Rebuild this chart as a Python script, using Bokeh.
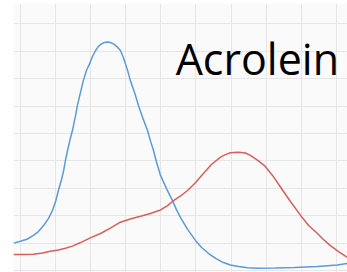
from bokeh.plotting import figure
from bokeh.models import Range1d, FixedTicker, Label
from bokeh.embed import file_html
from bokeh.resources import INLINE

# Blue series
blue_x = [-0.20, 0.00, 0.20, 0.37, 0.51, 0.66, 0.80, 0.91, 1.00, 1.08, 1.17, 1.23,
          1.28, 1.34, 1.42, 1.48, 1.57, 1.62, 1.71, 1.79, 1.88, 1.97, 2.05, 2.14,
          2.22, 2.31, 2.39, 2.48, 2.56, 2.65, 2.74, 2.85, 2.92, 2.99, 3.06, 3.13,
          3.25, 3.36, 3.48, 3.62, 3.70, 3.79, 3.87, 3.99, 4.16, 4.33, 4.44, 4.56,
          4.76, 4.99, 5.16, 5.36, 5.56, 5.78, 5.98, 6.21, 6.47, 6.75, 7.26, 7.81,
          8.46, 9.03, 9.32]
blue_y = [1.00, 1.07, 1.15, 1.28, 1.42, 1.64, 1.90, 2.19, 2.52, 2.92, 3.32, 3.65,
          4.01, 4.38, 4.82, 5.11, 5.66, 6.02, 6.50, 6.93, 7.30, 7.55, 7.81, 8.03,
          8.18, 8.27, 8.32, 8.34, 8.32, 8.27, 8.18, 8.03, 7.81, 7.55, 7.26, 6.93,
          6.50, 6.02, 5.58, 5.11, 4.74, 4.38, 3.98, 3.47, 2.99, 2.55, 2.23, 1.93,
          1.50, 1.09, 0.84, 0.62, 0.44, 0.29, 0.20, 0.15, 0.10, 0.08, 0.09, 0.11,
          0.15, 0.20, 0.26]

# Red series
red_x = [-0.20, 0.09, 0.37, 0.63, 0.85, 1.08, 1.28, 1.48, 1.71, 1.99, 2.28, 2.56,
         2.82, 3.13, 3.42, 3.70, 3.99, 4.19, 4.33, 4.56, 4.76, 4.99, 5.21, 5.44,
         5.70, 5.84, 5.98, 6.21, 6.41, 6.55, 6.75, 6.95, 7.18, 7.41, 7.69, 7.98,
         8.21, 8.46, 8.63, 8.83, 9.06, 9.32]
red_y = [0.58, 0.58, 0.59, 0.64, 0.70, 0.75, 0.81, 0.89, 1.02, 1.19, 1.35, 1.55,
         1.75, 1.88, 1.98, 2.08, 2.21, 2.37, 2.52, 2.72, 2.92, 3.21, 3.54, 3.87,
         4.14, 4.23, 4.30, 4.32, 4.29, 4.20, 4.03, 3.83, 3.47, 3.04, 2.52, 2.01,
         1.64, 1.35, 1.13, 0.91, 0.69, 0.47]

x_ticks = [0, 1, 2, 3, 4, 5, 6, 7, 8, 9]
y_ticks = [0, 1, 2, 3, 4, 5, 6, 7, 8, 9]
title_text = "Acrolein"

p = figure(width=347, height=272, output_backend="svg", toolbar_location=None,
           x_range=Range1d(-0.199, 9.316), y_range=Range1d(-0.073, 9.745),
           min_border_left=13, min_border_right=0, min_border_top=3, min_border_bottom=0)
p.background_fill_color = "#fafafa"
p.border_fill_color = "white"
p.outline_line_color = None
p.xaxis.ticker = FixedTicker(ticks=x_ticks)
p.yaxis.ticker = FixedTicker(ticks=y_ticks)
p.axis.visible = False
p.grid.grid_line_color = "#e6e6e6"
p.grid.grid_line_width = 1

p.line(blue_x, blue_y, line_color="#5b9bd5", line_width=1.5)
p.line(red_x, red_y, line_color="#d65f5b", line_width=1.5)

p.add_layout(Label(x=4.42, y=7.72, text=title_text, text_font="Open Sans",
                   text_font_size="43px", text_color="black",
                   text_align="left", text_baseline="alphabetic"))

open("out.html", "w").write(file_html(p, INLINE))
